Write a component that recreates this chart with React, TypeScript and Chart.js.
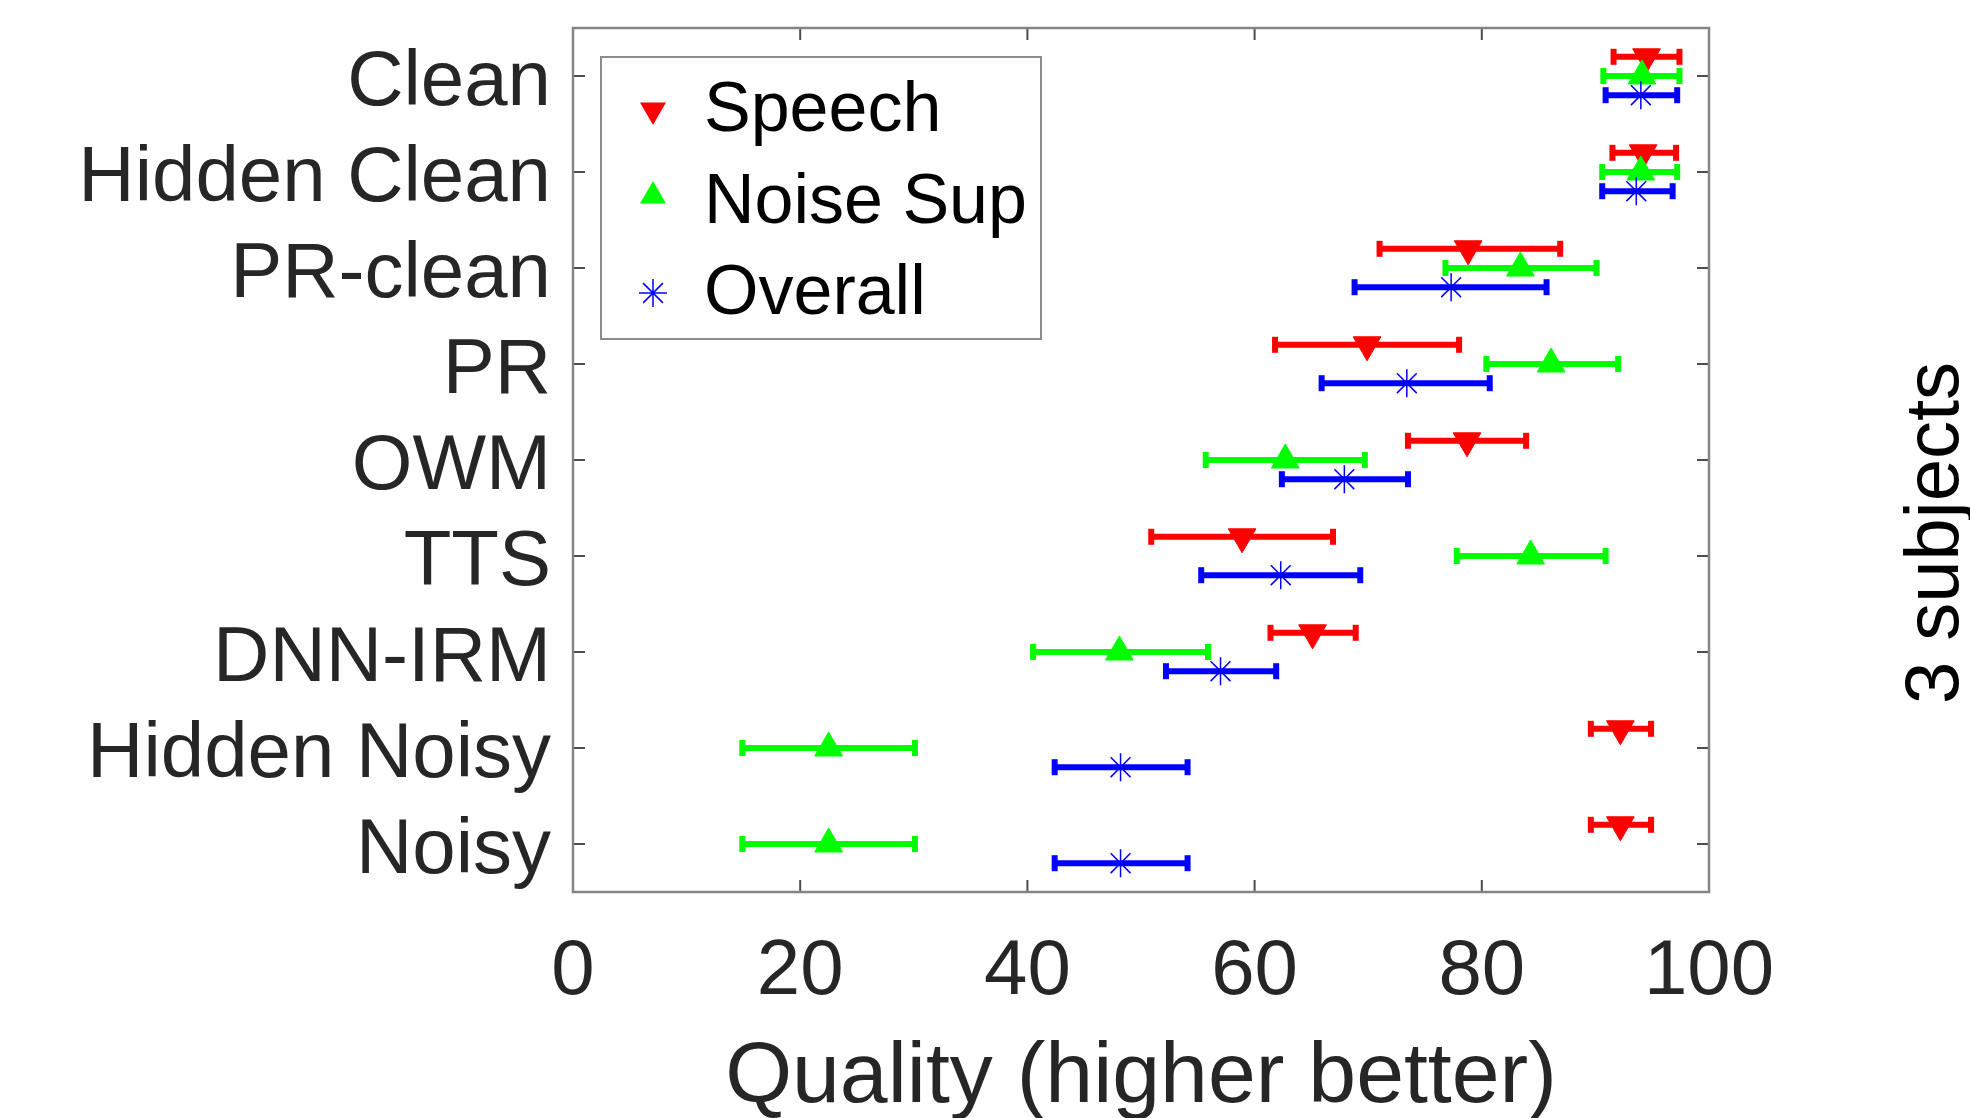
import React, { useEffect, useRef } from 'react';
import { Chart, registerables } from 'chart.js';

Chart.register(...registerables);

// ---- data ----
const categories = ['Clean', 'Hidden Clean', 'PR-clean', 'PR', 'OWM', 'TTS', 'DNN-IRM', 'Hidden Noisy', 'Noisy'];
const xTickValues = [0, 20, 40, 60, 80, 100];

const speechMean = [94.5, 94.2, 78.8, 69.9, 78.7, 58.9, 65.1, 92.2, 92.2];
const speechLow = [91.6, 91.5, 71.0, 61.8, 73.5, 50.9, 61.4, 89.6, 89.6];
const speechHigh = [97.4, 97.1, 86.9, 78.0, 83.9, 66.9, 68.9, 94.9, 94.9];

const noiseMean = [94.1, 94.0, 83.4, 86.1, 62.7, 84.3, 48.1, 22.5, 22.5];
const noiseLow = [90.7, 90.6, 76.8, 80.4, 55.7, 77.8, 40.5, 14.9, 14.9];
const noiseHigh = [97.4, 97.2, 90.1, 92.0, 69.7, 90.9, 55.9, 30.1, 30.1];

const overallMean = [94.0, 93.6, 77.3, 73.4, 67.9, 62.3, 57.0, 48.2, 48.2];
const overallLow = [90.9, 90.6, 68.8, 65.9, 62.4, 55.3, 52.2, 42.4, 42.4];
const overallHigh = [97.2, 96.8, 85.7, 80.7, 73.5, 69.3, 61.9, 54.1, 54.1];

const seriesNames = ['Speech', 'Noise Sup', 'Overall'];
const seriesColors = ['#ff0000', '#00ff00', '#0000ff'];
const seriesOffsets = [-0.2, 0, 0.2];
const sideLabel = '3 subjects';
const xTitle = 'Quality (higher better)';

const FONT = '"Liberation Sans", Arial, Helvetica, sans-serif';
const CANVAS_W = 1970;
const CANVAS_H = 1160;

function barPoints(low: number[], high: number[], off: number) {
  const pts: any[] = [];
  low.forEach((l, i) => {
    pts.push({ x: l, y: i + off });
    pts.push({ x: high[i], y: i + off });
    pts.push({ x: null, y: null });
  });
  return pts;
}
function markerPoints(mean: number[], off: number) {
  return mean.map((m, i) => ({ x: m, y: i + off }));
}

function drawTriangle(ctx: CanvasRenderingContext2D, x: number, y: number, r: number, down: boolean, color: string) {
  const s = down ? -1 : 1;
  ctx.beginPath();
  ctx.moveTo(x, y - s * r);
  ctx.lineTo(x + r * Math.sin((2 * Math.PI) / 3), y + s * r * 0.5);
  ctx.lineTo(x - r * Math.sin((2 * Math.PI) / 3), y + s * r * 0.5);
  ctx.closePath();
  ctx.fillStyle = color;
  ctx.fill();
}
function drawStar(ctx: CanvasRenderingContext2D, x: number, y: number, r: number, color: string) {
  ctx.beginPath();
  ctx.moveTo(x, y - r); ctx.lineTo(x, y + r);
  ctx.moveTo(x - r, y); ctx.lineTo(x + r, y);
  const d = r * Math.SQRT1_2;
  ctx.moveTo(x - d, y - d); ctx.lineTo(x + d, y + d);
  ctx.moveTo(x - d, y + d); ctx.lineTo(x + d, y - d);
  ctx.strokeStyle = color;
  ctx.lineWidth = 1.5;
  ctx.stroke();
}

const framePlugin = {
  id: 'frameTicks',
  afterDatasetsDraw(chart: any) {
    const { ctx, chartArea: a, scales } = chart;
    ctx.save();
    ctx.strokeStyle = '#4d4d4d';
    ctx.lineWidth = 2;
    const tl = 12;
    xTickValues.forEach((v) => {
      const px = scales.x.getPixelForValue(v);
      ctx.beginPath();
      ctx.moveTo(px, a.top); ctx.lineTo(px, a.top + tl);
      ctx.moveTo(px, a.bottom); ctx.lineTo(px, a.bottom - tl);
      ctx.stroke();
    });
    categories.forEach((_, i) => {
      const py = scales.y.getPixelForValue(i);
      ctx.beginPath();
      ctx.moveTo(a.left, py); ctx.lineTo(a.left + tl, py);
      ctx.moveTo(a.right, py); ctx.lineTo(a.right - tl, py);
      ctx.stroke();
    });
    ctx.strokeStyle = '#858585';
    ctx.lineWidth = 2.5;
    ctx.strokeRect(a.left, a.top, a.right - a.left, a.bottom - a.top);
    ctx.restore();
  },
};

const legendPlugin = {
  id: 'insideLegend',
  afterDraw(chart: any) {
    const { ctx, chartArea: a } = chart;
    const bx = a.left + 28;
    const by = a.top + 29;
    const bw = 440;
    const bh = 282;
    ctx.save();
    ctx.fillStyle = '#ffffff';
    ctx.fillRect(bx, by, bw, bh);
    ctx.strokeStyle = '#8c8c8c';
    ctx.lineWidth = 2;
    ctx.strokeRect(bx, by, bw, bh);
    const rows = [53, 145, 236];
    ctx.font = `70px ${FONT}`;
    ctx.textBaseline = 'middle';
    ctx.textAlign = 'left';
    seriesNames.forEach((name, i) => {
      const cy = by + rows[i];
      const mx = bx + 52;
      if (i === 0) drawTriangle(ctx, mx, cy, 15, true, seriesColors[i]);
      else if (i === 1) drawTriangle(ctx, mx, cy - 6, 15, false, seriesColors[i]);
      else drawStar(ctx, mx, cy, 14, seriesColors[i]);
      ctx.fillStyle = '#000000';
      ctx.fillText(name, bx + 103, cy + 2);
    });
    ctx.restore();
  },
};

const sideTextPlugin = {
  id: 'sideText',
  afterDraw(chart: any) {
    const { ctx } = chart;
    ctx.save();
    ctx.translate(chart.width - 12, 533);
    ctx.rotate(-Math.PI / 2);
    ctx.font = `76px ${FONT}`;
    ctx.fillStyle = '#000000';
    ctx.textAlign = 'center';
    ctx.textBaseline = 'alphabetic';
    ctx.fillText(sideLabel, 0, 0);
    ctx.restore();
  },
};

export default function App() {
  const ref = useRef<HTMLCanvasElement | null>(null);
  useEffect(() => {
    if (!ref.current) return;
    const datasets: any[] = [];
    const lows = [speechLow, noiseLow, overallLow];
    const highs = [speechHigh, noiseHigh, overallHigh];
    const means = [speechMean, noiseMean, overallMean];
    seriesNames.forEach((name, s) => {
      const color = seriesColors[s];
      const off = seriesOffsets[s];
      datasets.push({
        label: name + ' range',
        data: barPoints(lows[s], highs[s], off),
        showLine: true,
        spanGaps: false,
        borderColor: color,
        backgroundColor: color,
        borderWidth: 6,
        pointStyle: 'line',
        pointRotation: 90,
        pointRadius: 8,
        pointBorderWidth: 6,
        pointBorderColor: color,
        pointHoverRadius: 8,
        order: 6 - s * 2,
      });
      datasets.push({
        label: name,
        data: markerPoints(means[s], off),
        showLine: false,
        pointStyle: s === 2 ? 'star' : 'triangle',
        pointRotation: s === 0 ? 180 : 0,
        pointRadius: s === 2 ? 14 : 16,
        pointHoverRadius: s === 2 ? 14 : 16,
        pointBackgroundColor: color,
        pointBorderColor: color,
        pointBorderWidth: s === 2 ? 1.5 : 1,
        order: 5 - s * 2,
      });
    });

    const chart = new Chart(ref.current, {
      type: 'scatter',
      data: { datasets },
      plugins: [framePlugin, legendPlugin, sideTextPlugin],
      options: {
        animation: false,
        responsive: false,
        maintainAspectRatio: false,
        layout: { padding: { top: 28, right: 261, bottom: 0, left: 0 } },
        plugins: {
          legend: { display: false },
          tooltip: { enabled: false },
        },
        scales: {
          x: {
            type: 'linear',
            position: 'bottom',
            min: 0,
            max: 100,
            afterBuildTicks: (axis: any) => {
              axis.ticks = xTickValues.map((v) => ({ value: v }));
            },
            afterFit: (axis: any) => {
              axis.height = CANVAS_H - 892;
              axis.paddingLeft = 0;
              axis.paddingRight = 0;
            },
            grid: { display: false, drawTicks: false },
            border: { display: false },
            ticks: {
              color: '#262626',
              font: { family: FONT, size: 78 },
              padding: 34,
              maxRotation: 0,
              autoSkip: false,
            },
            title: {
              display: true,
              text: xTitle,
              color: '#262626',
              font: { family: FONT, size: 86 },
              padding: { top: 0, bottom: 30 },
            },
          },
          y: {
            type: 'linear',
            position: 'left',
            min: -0.5,
            max: 8.5,
            reverse: true,
            afterBuildTicks: (axis: any) => {
              axis.ticks = categories.map((_, i) => ({ value: i }));
            },
            afterFit: (axis: any) => {
              axis.width = 573;
              axis.paddingTop = 0;
              axis.paddingBottom = 0;
            },
            grid: { display: false, drawTicks: false },
            border: { display: false },
            ticks: {
              color: '#262626',
              font: { family: FONT, size: 78 },
              padding: 22,
              labelOffset: 7,
              autoSkip: false,
              callback: (v: any) => categories[Math.round(Number(v))] ?? '',
            },
          },
        },
      } as any,
    });
    return () => chart.destroy();
  }, []);

  return (
    <div style={{ position: 'fixed', left: 0, top: 0, width: CANVAS_W, height: CANVAS_H, background: '#ffffff' }}>
      <canvas ref={ref} width={CANVAS_W} height={CANVAS_H} style={{ width: CANVAS_W, height: CANVAS_H, display: 'block' }} />
    </div>
  );
}
